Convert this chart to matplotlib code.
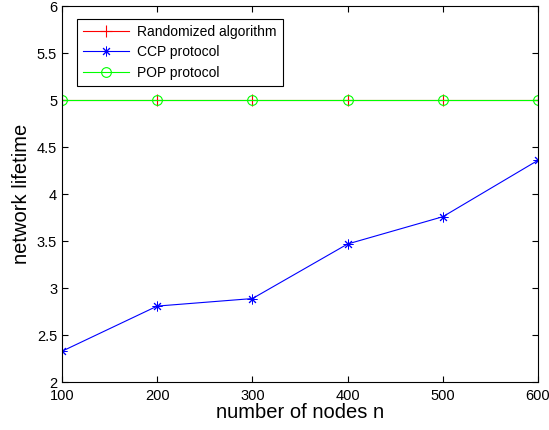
import matplotlib
matplotlib.use('Agg')
import matplotlib.pyplot as plt

plt.rcParams['font.family'] = ['Liberation Sans', 'DejaVu Sans']

nodes = [100, 200, 300, 400, 500, 600]
randomized = [5, 5, 5, 5, 5, 5]
ccp = [2.33, 2.81, 2.89, 3.47, 3.76, 4.36]
pop = [5, 5, 5, 5, 5, 5]

fig = plt.figure(figsize=(5.49, 4.30), dpi=100)
ax = fig.add_axes([0.113, 0.111, 0.867, 0.875])

ax.plot(nodes, randomized, color='red', marker='+', markersize=8, linewidth=0.8,
        markeredgewidth=0.8, label='Randomized algorithm')
ax.plot(nodes, ccp, color='blue', marker=(8, 2, 0), markersize=7, linewidth=0.8,
        markeredgewidth=0.7, label='CCP protocol')
ax.plot(nodes, pop, color='#00ff00', marker='o', markersize=7, linewidth=0.8,
        markerfacecolor='none', markeredgewidth=0.8, label='POP protocol')

ax.set_xlim(100, 600)
ax.set_ylim(2, 6)
ax.set_xticks(nodes)
ax.set_yticks([2, 2.5, 3, 3.5, 4, 4.5, 5, 5.5, 6])
ax.set_yticklabels(['2', '2.5', '3', '3.5', '4', '4.5', '5', '5.5', '6'])
ax.tick_params(axis='x', pad=5)
ax.tick_params(direction='in', top=True, right=True, labelsize=10.5, length=4,
               width=0.8)
for s in ax.spines.values():
    s.set_linewidth(0.8)

ax.set_xlabel('number of nodes n', fontsize=14.5, labelpad=0)
ax.set_ylabel('network lifetime', fontsize=14.5, labelpad=4)

leg = ax.legend(loc='upper left', bbox_to_anchor=(0.031, 0.966), fontsize=10,
                fancybox=False, edgecolor='black', framealpha=1,
                handlelength=3.3, borderpad=0.45, labelspacing=0.45,
                handletextpad=0.6, borderaxespad=0)
leg.get_frame().set_linewidth(0.8)

fig.savefig('out.png', dpi=100)
